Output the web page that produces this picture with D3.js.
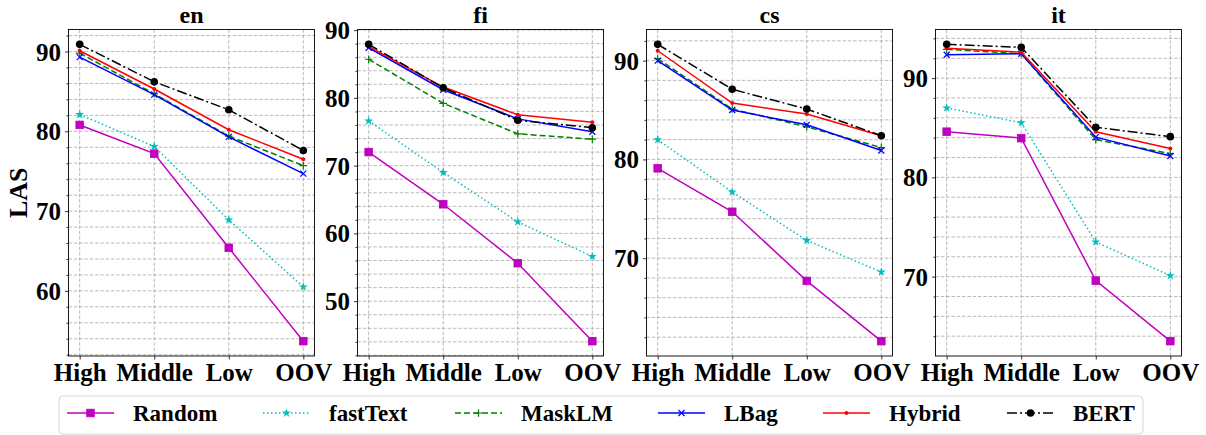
<!DOCTYPE html>
<html>
<head>
<meta charset="utf-8">
<script src="https://cdn.jsdelivr.net/npm/d3@7"></script>
<style>
  html, body { margin: 0; padding: 0; background: #fff; }
  svg { display: block; }
  text { font-family: "Liberation Serif", "Times New Roman", serif; font-weight: bold; fill: #000; }
</style>
</head>
<body>
<svg id="chart" width="1206" height="435"></svg>
<script>
// ---------------- data ----------------
const categories = ["High", "Middle", "Low", "OOV"];
const languages = ["en", "fi", "cs", "it"];
const seriesNames = ["Random", "fastText", "MaskLM", "LBag", "Hybrid", "BERT"];
const yLabel = "LAS";

// rows follow seriesNames order; columns follow categories order
const enValues = [
  [80.8, 77.2, 65.4, 53.7],
  [82.1, 78.1, 68.9, 60.5],
  [89.8, 84.7, 79.4, 75.7],
  [89.3, 84.6, 79.3, 74.7],
  [90.1, 85.3, 80.2, 76.5],
  [90.9, 86.2, 82.7, 77.6]
];
const fiValues = [
  [72.0, 64.3, 55.6, 44.1],
  [76.6, 69.0, 61.7, 56.6],
  [85.7, 79.2, 74.7, 73.9],
  [87.4, 81.2, 76.9, 75.0],
  [87.6, 81.6, 77.5, 76.4],
  [87.9, 81.5, 76.7, 75.6]
];
const csValues = [
  [79.1, 74.7, 67.7, 61.6],
  [82.0, 76.7, 71.8, 68.6],
  [90.2, 85.1, 83.3, 81.2],
  [90.0, 85.0, 83.5, 80.9],
  [91.0, 85.7, 84.6, 82.4],
  [91.65, 87.1, 85.1, 82.4]
];
const itValues = [
  [84.6, 83.95, 69.6, 63.5],
  [87.0, 85.5, 73.5, 70.1],
  [92.9, 92.45, 83.8, 82.4],
  [92.35, 92.45, 84.05, 82.15],
  [93.0, 92.6, 84.6, 82.9],
  [93.4, 93.1, 85.05, 84.1]
];
const panelValues = [enValues, fiValues, csValues, itValues];

// ---------------- styles / layout ----------------
const styles = {
  Random:   { color: "#bf00bf", dash: null,         marker: "square" },
  fastText: { color: "#00bfbf", dash: "1.5,2.5",    marker: "star" },
  MaskLM:   { color: "#008000", dash: "6,3",        marker: "plus" },
  LBag:     { color: "#0000ff", dash: null,         marker: "x" },
  Hybrid:   { color: "#ff0000", dash: null,         marker: "point" },
  BERT:     { color: "#000000", dash: "10,3,2,3",   marker: "circle" }
};
const layout = {
  panelLeft0: 68.5, panelStep: 289, panelWidth: 246,
  top: 29.5, bottom: 356,
  legend: { x: 59, y: 396, w: 1084, h: 38, lineY: 413,
            itemX: [67, 263, 455, 658, 823, 1007], handleLen: 47, textGap: 19 }
};
const TICK_FONT = 25, TITLE_FONT = 24, LABEL_FONT = 26, LEGEND_FONT = 23;

const svg = d3.select("#chart");

function drawMarker(g, type, color, x, y) {
  if (type === "square") {
    g.append("rect").attr("x", x - 3.8).attr("y", y - 3.8).attr("width", 7.6).attr("height", 7.6)
      .attr("fill", color).attr("stroke", color).attr("stroke-width", 0.8);
  } else if (type === "circle") {
    g.append("circle").attr("cx", x).attr("cy", y).attr("r", 3.8).attr("fill", color);
  } else if (type === "point") {
    g.append("circle").attr("cx", x).attr("cy", y).attr("r", 2).attr("fill", color);
  } else if (type === "star") {
    g.append("path").attr("d", d3.symbol().type(d3.symbolStar).size(26)())
      .attr("transform", `translate(${x},${y})`).attr("fill", color);
  } else if (type === "plus") {
    const s = 3.8;
    g.append("path").attr("d", `M${x - s},${y}H${x + s}M${x},${y - s}V${y + s}`)
      .attr("stroke", color).attr("stroke-width", 1.2).attr("fill", "none");
  } else if (type === "x") {
    const s = 3;
    g.append("path").attr("d", `M${x - s},${y - s}L${x + s},${y + s}M${x - s},${y + s}L${x + s},${y - s}`)
      .attr("stroke", color).attr("stroke-width", 1.2).attr("fill", "none");
  }
}

languages.forEach((lang, li) => {
  const values = panelValues[li];
  const x0 = layout.panelLeft0 + li * layout.panelStep;
  const x1 = x0 + layout.panelWidth;
  const g = svg.append("g");

  const xIdx = d3.scaleLinear().domain([-0.15, categories.length - 1 + 0.15]).range([x0, x1]);
  const x = c => xIdx(categories.indexOf(c));

  const all = values.flat();
  const [mn, mx] = d3.extent(all);
  const pad = (mx - mn) * 0.05;
  const y = d3.scaleLinear().domain([mn - pad, mx + pad]).range([layout.bottom, layout.top]);

  const majors = d3.range(Math.ceil(y.domain()[0] / 10) * 10, y.domain()[1], 10);
  const minors = d3.range(Math.ceil(y.domain()[0] / 2) * 2, y.domain()[1], 2);

  const grid = g.append("g").attr("stroke", "#a8a8a8").attr("stroke-width", 0.8)
    .attr("stroke-dasharray", "3.5,1.8").attr("fill", "none");
  minors.forEach(v => grid.append("line").attr("x1", x0).attr("x2", x1)
    .attr("y1", y(v)).attr("y2", y(v)));
  categories.forEach(c => grid.append("line").attr("x1", x(c)).attr("x2", x(c))
    .attr("y1", layout.top).attr("y2", layout.bottom));

  values.forEach((row, si) => {
    const name = seriesNames[si];
    const st = styles[name];
    const pts = row.map((v, ci) => [x(categories[ci]), y(v)]);
    g.append("path").attr("d", d3.line()(pts)).attr("fill", "none")
      .attr("stroke", st.color).attr("stroke-width", 1.5)
      .attr("stroke-dasharray", st.dash);
    pts.forEach(p => drawMarker(g, st.marker, st.color, p[0], p[1]));
  });

  const yAxis = d3.axisLeft(y).tickValues(majors).tickSize(3.5).tickPadding(4).tickFormat(d3.format("d"));
  const yMinor = d3.axisLeft(y).tickValues(minors.filter(v => v % 10 !== 0)).tickSize(2).tickFormat("");
  const xAxis = d3.axisBottom(xIdx).tickValues(d3.range(categories.length))
    .tickFormat(i => categories[i]).tickSize(3.5).tickPadding(3);

  const ya = g.append("g").attr("transform", `translate(${x0},0)`).call(yAxis);
  const ym = g.append("g").attr("transform", `translate(${x0},0)`).call(yMinor);
  const xa = g.append("g").attr("transform", `translate(0,${layout.bottom})`).call(xAxis);
  [ya, ym, xa].forEach(a => {
    a.select(".domain").remove();
    a.selectAll(".tick line").attr("stroke", "#000").attr("stroke-width", 0.8);
    a.selectAll("text").style("font-family", '"Liberation Serif", serif')
      .style("font-weight", "bold").style("font-size", TICK_FONT + "px").attr("fill", "#000");
  });
  ya.selectAll("text").attr("dy", "0.34em");
  xa.selectAll("text").attr("dy", "0.72em");

  g.append("rect").attr("x", x0).attr("y", layout.top).attr("width", x1 - x0)
    .attr("height", layout.bottom - layout.top).attr("fill", "none")
    .attr("stroke", "#000").attr("stroke-width", 0.9);

  g.append("text").attr("x", (x0 + x1) / 2).attr("y", 23).attr("text-anchor", "middle")
    .style("font-size", TITLE_FONT + "px").text(lang);

  if (li === 0) {
    g.append("text").attr("transform", `translate(27,${(layout.top + layout.bottom) / 2}) rotate(-90)`)
      .attr("text-anchor", "middle").style("font-size", LABEL_FONT + "px").text(yLabel);
  }
});

// legend
const L = layout.legend;
const lg = svg.append("g");
lg.append("rect").attr("x", L.x).attr("y", L.y).attr("width", L.w).attr("height", L.h)
  .attr("rx", 4).attr("fill", "#fff").attr("stroke", "#d6d6d6").attr("stroke-width", 1);
seriesNames.forEach((name, i) => {
  const st = styles[name];
  const hx = L.itemX[i];
  lg.append("line").attr("x1", hx).attr("x2", hx + L.handleLen)
    .attr("y1", L.lineY).attr("y2", L.lineY).attr("stroke", st.color).attr("stroke-width", 1.5)
    .attr("stroke-dasharray", st.dash);
  drawMarker(lg, st.marker, st.color, hx + L.handleLen / 2, L.lineY);
  lg.append("text").attr("x", hx + L.handleLen + L.textGap).attr("y", L.lineY)
    .attr("dy", "0.35em").style("font-size", LEGEND_FONT + "px").text(name);
});
</script>
</body>
</html>
